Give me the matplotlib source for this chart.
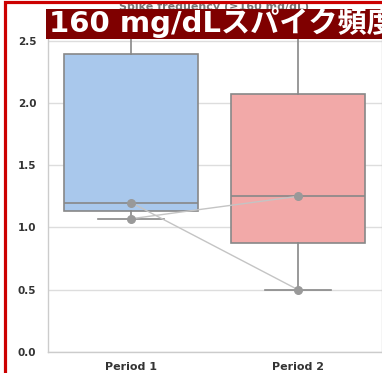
import matplotlib
matplotlib.use('Agg')
import matplotlib.pyplot as plt
from matplotlib.patches import Rectangle

# Data (per subject, period 1 -> period 2)
periods = ['Period 1', 'Period 2']
period1 = [1.20, 1.07, 3.58]
period2 = [0.50, 1.25, 2.90]
box_colors = ['#a9c8ec', '#f2a9a8']
y_ticks = [0.0, 0.5, 1.0, 1.5, 2.0, 2.5]
banner_text = '160 mg/dLスパイク頻度'
hidden_title = 'Spike frequency (≥160 mg/dL)'

W, H = 382, 373
fig = plt.figure(figsize=(W / 100, H / 100), dpi=100)
fig.patch.set_facecolor('white')

def px(x0, y0, x1, y1):
    # pixel box (top-left origin) -> figure fraction rect
    return [x0 / W, 1 - y1 / H, (x1 - x0) / W, (y1 - y0) / H]

ax = fig.add_axes(px(47.5, 12, 381.5, 352))

bp = ax.boxplot([period1, period2], positions=[0, 1], widths=0.8,
                patch_artist=True, whis=(0, 100), showfliers=False,
                medianprops=dict(color='#888888', linewidth=1.2),
                whiskerprops=dict(color='#888888', linewidth=1.2),
                capprops=dict(color='#888888', linewidth=1.2),
                boxprops=dict(edgecolor='#888888', linewidth=1.2))
for patch, c in zip(bp['boxes'], box_colors):
    patch.set_facecolor(c)

# paired subject lines + points
for a, b in zip(period1, period2):
    ax.plot([0, 1], [a, b], color='#c4c4c4', linewidth=1.0, zorder=3)
ax.scatter([0] * len(period1), period1, s=30, color='#999999', zorder=4)
ax.scatter([1] * len(period2), period2, s=30, color='#999999', zorder=4)

ax.set_xlim(-0.5, 1.5)
ax.set_ylim(0, 2.73)
ax.set_yticks(y_ticks)
ax.set_yticklabels(['%.1f' % v for v in y_ticks])
ax.set_xticks([0, 1])
ax.set_xticklabels(periods)
ax.yaxis.grid(True, color='#dddddd', linewidth=1.0)
ax.set_axisbelow(True)
for s in ax.spines.values():
    s.set_color('#cccccc')
    s.set_linewidth(1.0)
ax.tick_params(axis='both', length=0, colors='#333333')
ax.tick_params(axis='y', pad=8)
ax.tick_params(axis='x', pad=7)
for lab in ax.get_yticklabels():
    lab.set_fontsize(7.5)
    lab.set_fontweight('bold')
for lab in ax.get_xticklabels():
    lab.set_fontsize(8)
    lab.set_fontweight('bold')

# original title, almost fully hidden under the banner
fig.text(214 / W, 1 - 2 / H, hidden_title, ha='center', va='top',
         fontsize=8, fontweight='bold', color='#777777', zorder=1)

# red frame (cut off at right and bottom)
fig.patches.append(Rectangle((4.5 / W, -0.1), 1.2, 1 - 1.5 / H + 0.1,
                             transform=fig.transFigure, fill=False,
                             edgecolor='#cc0000', linewidth=2.3, zorder=10))

# banner
fig.patches.append(Rectangle((46 / W, 1 - 39 / H), 1.0, 30 / H,
                             transform=fig.transFigure, facecolor='#7f0000',
                             edgecolor='none', zorder=11))
fig.text(49 / W, 1 - 32.5 / H, banner_text, ha='left', va='baseline',
         fontsize=21, fontweight='bold', color='white',
         family=['DejaVu Sans', 'Noto Sans CJK JP'], zorder=12)

fig.savefig('out.png', dpi=100)
